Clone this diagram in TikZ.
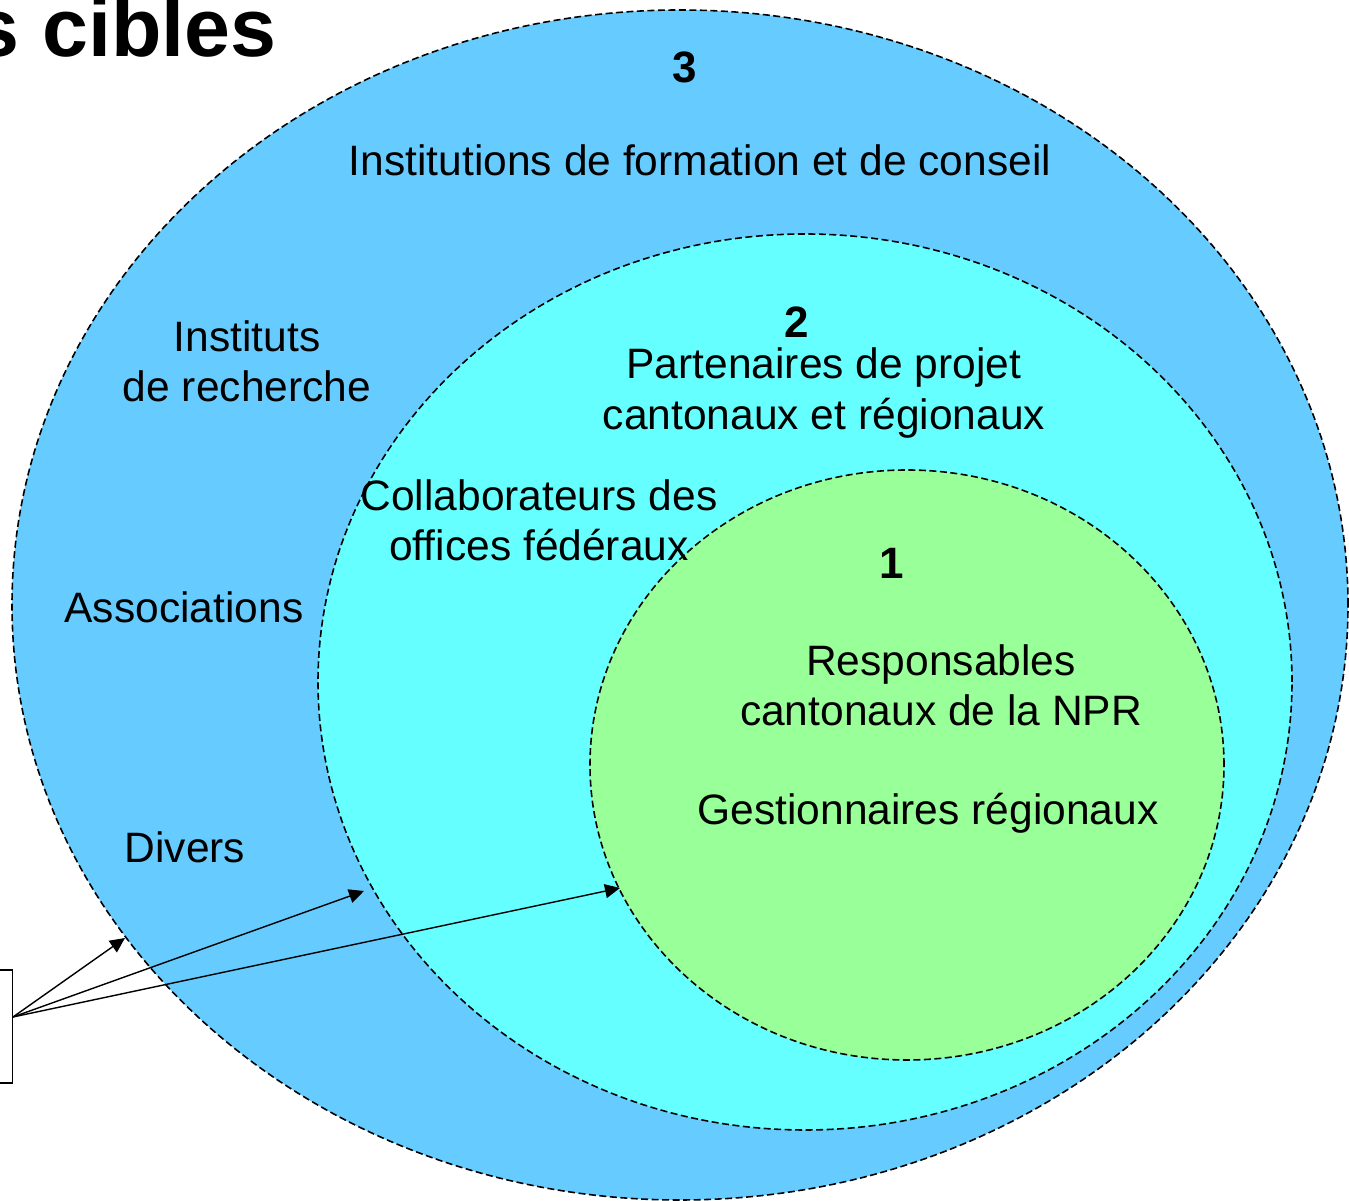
\documentclass[tikz,border=0pt]{standalone}
\usepackage{fontspec}
\setmainfont{Liberation Sans}
\usepackage{xcolor}
\usetikzlibrary{arrows.meta}
\definecolor{cerclebleu}{HTML}{66CCFF}
\definecolor{cerclecyan}{HTML}{66FFFF}
\definecolor{cerclevert}{HTML}{99FF99}

\begin{document}
\begin{tikzpicture}[
    zone/.style={draw=black,line width=0.9pt,dash pattern=on 1.4mm off 0.7mm},
    texte/.style={font=\fontsize{24.2}{28.5}\selectfont,align=center,inner sep=0pt},
    numero/.style={font=\fontsize{25}{28.5}\selectfont\bfseries,inner sep=0pt},
    fleche/.style={line width=0.8pt,-{Triangle[length=3mm,width=2.8mm]}}]
                \useasboundingbox (0,0) rectangle (26.98,24.02);
                \clip (0,0) rectangle (26.98,24.02);
                % cercles
                \draw[zone,fill=cerclebleu] (13.60,11.92) ellipse [x radius=13.36,y radius=11.90];
                \draw[zone,fill=cerclecyan] (16.10,10.38) ellipse [x radius=9.74,y radius=8.96];
                \draw[zone,fill=cerclevert] (18.14,8.72) ellipse [x radius=6.34,y radius=5.90];
                \node[anchor=base east,inner sep=0pt,font=\fontsize{47}{50}\selectfont\bfseries] (titre) at (5.54,22.88) {s cibles};
                % niveau 3
                \node[numero] (trois) at (13.70,22.68) {3};
                \node[texte] (formation) at (14.00,20.82) {Institutions de formation et de conseil};
                \node[texte] (recherche) at (4.94,16.80) {Instituts\\de recherche};
                \node[texte] (associations) at (3.68,11.88) {Associations};
                \node[texte] (divers) at (3.70,7.08) {Divers};
                % niveau 2
                \node[numero] (deux) at (15.94,17.58) {2};
                \node[texte] (partenaires) at (16.48,16.16) {Partenaires de projet\\cantonaux et régionaux};
                \node[texte] (collaborateurs) at (10.78,13.62) {Collaborateurs des\\offices fédéraux};
                % niveau 1
                \node[numero] (un) at (17.84,12.76) {1};
                \node[texte] (responsables) at (18.82,10.32) {Responsables\\cantonaux de la NPR};
                \node[texte] (gestionnaires) at (18.56,7.76) {Gestionnaires régionaux};
                % cadre et fleches
                \node[draw,line width=0.8pt,minimum width=1cm,minimum height=2.26cm,anchor=east] (cadre) at (0.26,3.49) {};
                \coordinate (bord3) at (2.50,5.26);
                \coordinate (bord2) at (7.28,6.20);
                \coordinate (bord1) at (12.40,6.26);
                \draw[fleche] ([yshift=0.19cm]cadre.east) -- (bord3);
                \draw[fleche] ([yshift=0.19cm]cadre.east) -- (bord2);
                \draw[fleche] ([yshift=0.19cm]cadre.east) -- (bord1);
            \end{tikzpicture}
\end{document}
